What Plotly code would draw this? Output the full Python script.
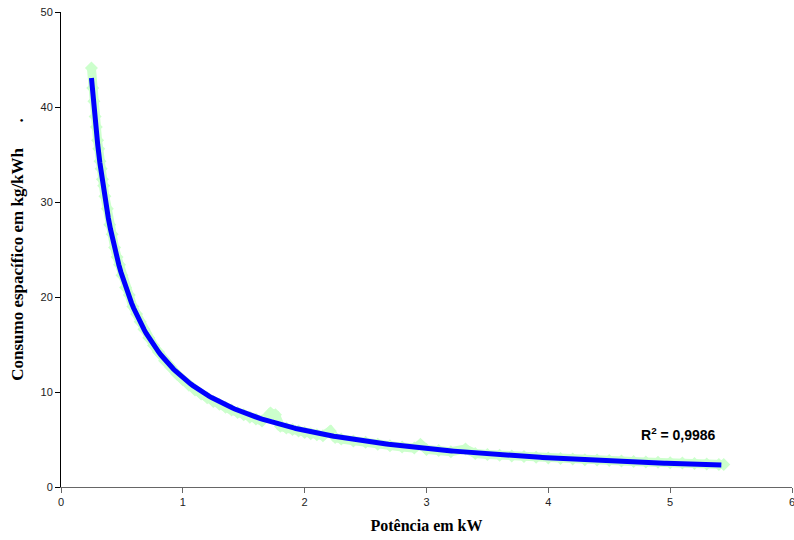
import numpy as np
import plotly.graph_objects as go

# Measured points (power in kW, specific consumption in kg/kWh)
potencia = [0.25, 0.26, 0.27, 0.28, 0.29, 0.30, 0.31, 0.32, 0.33, 0.34, 0.35, 0.36,
            0.38, 0.40, 0.42, 0.44, 0.46, 0.48, 0.50, 0.53, 0.56, 0.59, 0.62, 0.65,
            0.68, 0.72, 0.76, 0.80, 0.85, 0.90, 0.95, 1.00, 1.05, 1.10, 1.15, 1.20,
            1.25, 1.30, 1.35, 1.40, 1.45, 1.50, 1.55, 1.60, 1.65, 1.70, 1.72, 1.76,
            1.80, 1.85, 1.90, 1.95, 2.00, 2.05, 2.10, 2.15, 2.21, 2.25, 2.30, 2.40,
            2.50, 2.60, 2.70, 2.80, 2.90, 2.95, 3.00, 3.10, 3.20, 3.32, 3.40, 3.50,
            3.60, 3.70, 3.80, 3.90, 4.00, 4.10, 4.20, 4.30, 4.40, 4.50, 4.60, 4.70,
            4.80, 4.90, 5.00, 5.10, 5.20, 5.30, 5.40, 5.44]
consumo = [44.1, 42.0, 40.6, 39.0, 37.9, 36.5, 35.6, 34.3, 33.5, 32.4, 31.7, 30.6,
           29.3, 27.6, 26.6, 25.2, 24.2, 23.4, 22.3, 21.0, 20.2, 19.0, 18.2, 17.4,
           16.6, 15.7, 14.9, 14.2, 13.3, 12.6, 11.9, 11.3, 10.7, 10.2, 9.8, 9.4,
           9.0, 8.7, 8.4, 8.1, 7.85, 7.6, 7.35, 7.15, 6.95, 7.5, 7.8, 7.6,
           6.4, 6.2, 6.05, 5.9, 5.75, 5.6, 5.5, 5.4, 5.9, 5.2, 5.05, 4.85,
           4.7, 4.5, 4.35, 4.2, 4.1, 4.5, 3.95, 3.85, 3.72, 4.0, 3.52, 3.43,
           3.35, 3.27, 3.2, 3.12, 3.06, 3.0, 2.94, 2.88, 2.83, 2.78, 2.73, 2.68,
           2.64, 2.6, 2.56, 2.52, 2.47, 2.43, 2.38, 2.36]

r2_text = "R<sup>2</sup> = 0,9986"

# Power-law trendline (least squares on log-log, like Excel)
b, ln_a = np.polyfit(np.log(potencia), np.log(consumo), 1)
x_fit = np.linspace(min(potencia), 5.42, 300)
y_fit = np.exp(ln_a) * x_fit ** b

fig = go.Figure()

# green data band
fig.add_trace(go.Scatter(
    x=potencia, y=consumo,
    mode="lines+markers",
    line=dict(color="#ccffcc", width=9),
    marker=dict(symbol="diamond", size=10, color="#ccffcc"),
    showlegend=False
))

# blue trendline
fig.add_trace(go.Scatter(
    x=x_fit, y=y_fit,
    mode="lines",
    line=dict(color="#0000ff", width=5),
    showlegend=False
))

fig.add_annotation(
    x=5.07, y=5.6, text=r2_text, showarrow=False,
    font=dict(family="Liberation Sans, Arial", size=14, color="black", weight="bold")
)

fig.update_layout(
    width=794, height=540,
    margin=dict(l=61, r=2, t=12, b=53),
    plot_bgcolor="white",
    paper_bgcolor="white",
    xaxis=dict(
        range=[0, 6],
        tickvals=[0, 1, 2, 3, 4, 5, 6],
        ticklabeloverflow="allow",
        automargin=False,
        showgrid=False, zeroline=False,
        showline=True, linecolor="#666666", linewidth=1,
        ticks="outside", ticklen=5, tickcolor="#666666",
        tickfont=dict(family="Liberation Sans, Arial", size=11, color="#222"),
        title=dict(text="Potência em kW", standoff=12,
                   font=dict(family="Liberation Serif, Times New Roman", size=16,
                             color="black", weight="bold"))
    ),
    yaxis=dict(
        range=[0, 50],
        tickvals=[0, 10, 20, 30, 40, 50],
        automargin=False,
        showgrid=False, zeroline=False,
        showline=True, linecolor="black", linewidth=1,
        ticks="outside", ticklen=5, tickcolor="black",
        tickfont=dict(family="Liberation Sans, Arial", size=11, color="#222"),
        title=dict(text="Consumo espacífico em kg/kWh" + "\u00a0" * 6 + ".", standoff=12,
                   font=dict(family="Liberation Serif, Times New Roman", size=17,
                             color="black", weight="bold"))
    )
)

fig.write_html("out.html", config={"displayModeBar": False},
               post_script="document.body.style.margin='0';")
